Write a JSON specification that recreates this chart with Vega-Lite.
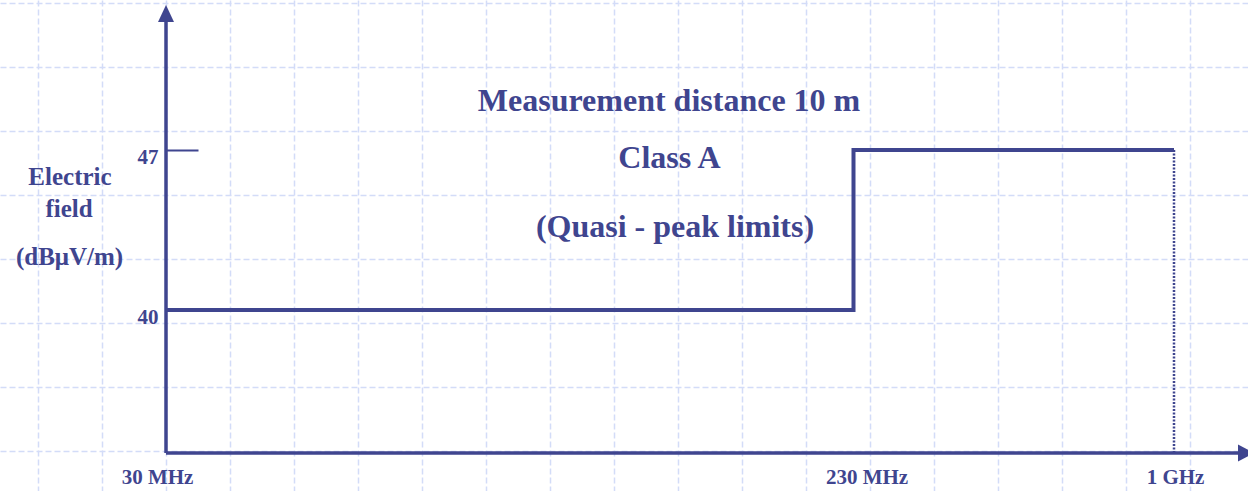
{
  "$schema": "https://vega.github.io/schema/vega-lite/v6.json",
  "width": 1248,
  "height": 491,
  "padding": 0,
  "autosize": {"type": "none"},
  "background": "#ffffff",
  "config": {
    "view": {"stroke": null},
    "axis": {
      "domain": false,
      "title": null,
      "labelFont": "Liberation Serif",
      "labelFontWeight": "bold",
      "labelFontSize": 21,
      "labelColor": "#3f458f",
      "tickColor": "#3f458f",
      "gridColor": "#d3dcf8",
      "gridDash": [6, 3],
      "gridWidth": 1.5
    }
  },
  "layer": [
    {
      "data": {"values": [
        {"freq": 30, "freq2": 30, "level": 33.74375, "level2": 52.9},
        {"freq": 30, "freq2": 1160, "level": 33.74375, "level2": 33.74375}
      ]},
      "mark": {"type": "rule", "color": "#3f458f", "strokeWidth": 3.5},
      "encoding": {
        "x": {
          "field": "freq", "type": "quantitative",
          "scale": {"domain": [-18.29, 30, 230, 1000, 1177.785], "range": [0, 166, 853.5, 1174, 1248], "nice": false, "zero": false},
          "axis": {"values": [-7.295, 11.324, 29.942, 48.56, 67.178, 85.796, 104.415, 123.033, 141.651, 160.269, 178.887, 197.505, 216.124, 269.16, 422.92, 576.68, 730.44, 884.2, 1037.96], "grid": true, "labels": false, "ticks": false, "domain": false}
        },
        "x2": {"field": "freq2"},
        "y": {
          "field": "level", "type": "quantitative",
          "scale": {"domain": [32.08125, 53.5625], "nice": false, "zero": false},
          "axis": {"values": [53.444, 50.644, 47.844, 45.044, 42.244, 39.444, 36.644, 33.844], "grid": true, "labels": false, "ticks": false, "domain": false}
        },
        "y2": {"field": "level2"}
      }
    },
    {
      "data": {"values": [{"freq": 1000, "level": 47, "level2": 33.74375}]},
      "mark": {"type": "rule", "color": "#3f458f", "strokeWidth": 2.5, "strokeDash": [2, 1.5]},
      "encoding": {
        "x": {
          "field": "freq", "type": "quantitative",
          "axis": {
            "orient": "bottom", "offset": -38, "values": [30, 230, 1000], "grid": false,
            "ticks": false, "tickSize": 0, "labelPadding": 30, "labelBaseline": "alphabetic",
            "labelFlush": false, "labelOverlap": false, "labelBound": false,
            "labelExpr": "datum.value == 30 ? '30 MHz' : datum.value == 230 ? '230 MHz' : '1 GHz'",
            "labelOffset": {"condition": [{"test": "datum.value == 30", "value": -9}, {"test": "datum.value == 230", "value": 13}], "value": 1}
          }
        },
        "y": {
          "field": "level", "type": "quantitative",
          "axis": {
            "orient": "left", "offset": -166, "values": [40, 47], "grid": false,
            "ticks": true, "tickSize": -32, "tickWidth": 2, "labelPadding": 40,
            "labelBaseline": "alphabetic", "labelOffset": 13, "labelOverlap": false
          }
        },
        "y2": {"field": "level2"}
      }
    },
    {
      "data": {"values": [
        {"point": 1, "freq": 30, "level": 40},
        {"point": 2, "freq": 230, "level": 40},
        {"point": 3, "freq": 230, "level": 47},
        {"point": 4, "freq": 1000, "level": 47}
      ]},
      "mark": {"type": "line", "color": "#3f458f", "strokeWidth": 4, "strokeJoin": "miter", "strokeCap": "butt"},
      "encoding": {
        "x": {"field": "freq", "type": "quantitative", "axis": null},
        "y": {"field": "level", "type": "quantitative", "axis": null},
        "order": {"field": "point", "type": "quantitative"}
      }
    },
    {
      "data": {"values": [{"freq": 30, "level": 52.971875}]},
      "mark": {"type": "point", "shape": "M0,-1L-0.94,1L0.94,1Z", "size": 289, "filled": true, "color": "#3f458f", "opacity": 1, "strokeWidth": 0},
      "encoding": {
        "x": {"field": "freq", "type": "quantitative", "axis": null},
        "y": {"field": "level", "type": "quantitative", "axis": null}
      }
    },
    {
      "data": {"values": [{"freq": 1172.98, "level": 33.74375}]},
      "mark": {"type": "point", "shape": "M0.94,0L-0.94,-1L-0.94,1Z", "size": 289, "filled": true, "color": "#3f458f", "opacity": 1, "strokeWidth": 0},
      "encoding": {
        "x": {"field": "freq", "type": "quantitative", "axis": null},
        "y": {"field": "level", "type": "quantitative", "axis": null}
      }
    },
    {
      "data": {"values": [
        {"text": "Measurement distance 10 m", "freq": 176.33, "level": 48.706},
        {"text": "Class A", "freq": 176.47, "level": 46.2125},
        {"text": "(Quasi - peak limits)", "freq": 178.07, "level": 43.194}
      ]},
      "mark": {"type": "text", "font": "Liberation Serif", "fontWeight": "bold", "fontSize": 32, "align": "center", "baseline": "alphabetic", "color": "#3f458f"},
      "encoding": {
        "x": {"field": "freq", "type": "quantitative", "axis": null},
        "y": {"field": "level", "type": "quantitative", "axis": null},
        "text": {"field": "text"}
      }
    },
    {
      "data": {"values": [
        {"text": "Electric", "freq": 2.07, "level": 45.469},
        {"text": "field", "freq": 1.78, "level": 44.069},
        {"text": "(dBμV/m)", "freq": 1.93, "level": 41.947}
      ]},
      "mark": {"type": "text", "font": "Liberation Serif", "fontWeight": "bold", "fontSize": 25, "align": "center", "baseline": "alphabetic", "color": "#3f458f"},
      "encoding": {
        "x": {"field": "freq", "type": "quantitative", "axis": null},
        "y": {"field": "level", "type": "quantitative", "axis": null},
        "text": {"field": "text"}
      }
    }
  ],
  "resolve": {"axis": {"x": "independent", "y": "independent"}}
}
